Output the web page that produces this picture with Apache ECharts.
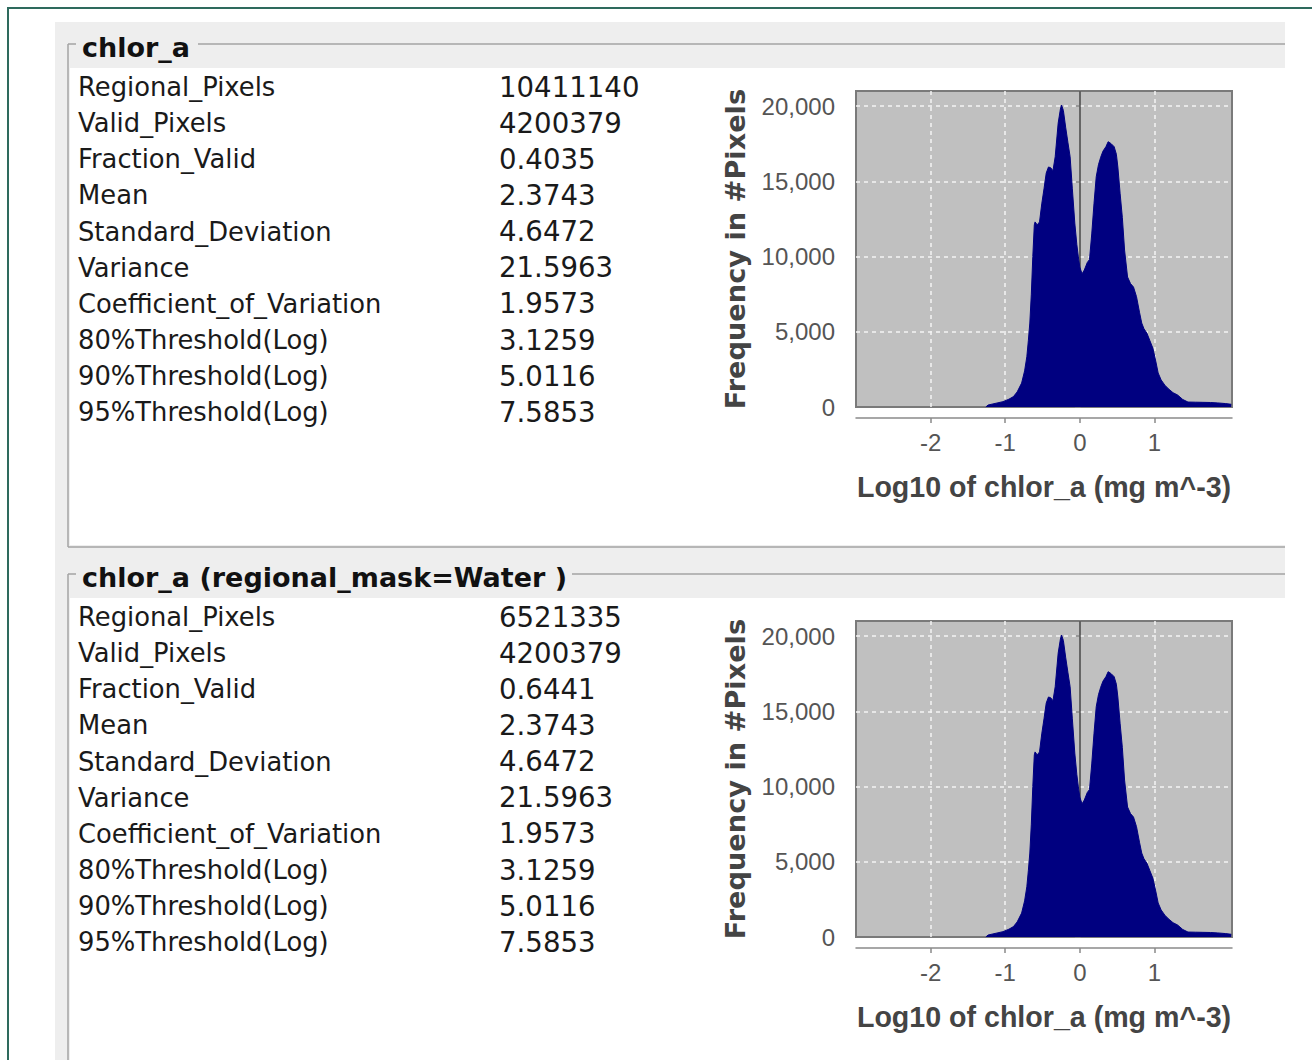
<!DOCTYPE html>
<html><head><meta charset="utf-8">
<script src="https://cdn.jsdelivr.net/npm/echarts@6/dist/echarts.min.js"></script>
<style>html,body{margin:0;padding:0;background:#fff;overflow:hidden}#c{width:1312px;height:1060px}</style>
</head><body><div id="c"></div><script>
// ---------- data ----------
const panelTitles = ['chlor_a', 'chlor_a (regional_mask=Water )'];
const statNames = ['Regional_Pixels', 'Valid_Pixels', 'Fraction_Valid', 'Mean', 'Standard_Deviation',
  'Variance', 'Coefficient_of_Variation', '80%Threshold(Log)', '90%Threshold(Log)', '95%Threshold(Log)'];
const statsAll = ['10411140', '4200379', '0.4035', '2.3743', '4.6472', '21.5963', '1.9573', '3.1259', '5.0116', '7.5853'];
const statsWater = ['6521335', '4200379', '0.6441', '2.3743', '4.6472', '21.5963', '1.9573', '3.1259', '5.0116', '7.5853'];
const xAxisTitle = 'Log10 of chlor_a (mg m^-3)';
const yAxisTitle = 'Frequency in #Pixels';
const xTicks = [-2, -1, 0, 1];
const yTicks = [0, 5000, 10000, 15000, 20000];
const yGridLines = [5000, 10000, 15000, 20000];
const xGridLines = [-2, -1, 1];
const markerX = 0;
// histogram: [log10 chlor_a, pixel count]
const histPoints = [
  [-1.26, 0], [-1.23, 130], [-1.15, 220], [-1.03, 355], [-0.95, 520], [-0.89, 690], [-0.84, 1000],
  [-0.78, 1590], [-0.74, 2400], [-0.71, 3340], [-0.69, 4400], [-0.67, 5580], [-0.65, 7500],
  [-0.63, 10000], [-0.61, 12100], [-0.60, 12300], [-0.57, 12100], [-0.54, 12300], [-0.51, 13500],
  [-0.48, 14500], [-0.45, 15550], [-0.42, 15950], [-0.39, 15900], [-0.36, 15700], [-0.33, 16630],
  [-0.29, 18870], [-0.26, 19800], [-0.245, 20070], [-0.22, 19700], [-0.19, 18600], [-0.16, 17600],
  [-0.13, 16630], [-0.10, 14500], [-0.067, 12220], [-0.04, 10800], [-0.02, 9990], [0.00, 9300],
  [0.03, 8850], [0.06, 9100], [0.10, 9600], [0.13, 9800], [0.16, 11500], [0.19, 13500],
  [0.22, 15300], [0.25, 16100], [0.28, 16600], [0.31, 17000], [0.35, 17300], [0.38, 17630],
  [0.42, 17500], [0.46, 17300], [0.49, 16800], [0.51, 15950], [0.54, 14200], [0.57, 12600],
  [0.60, 10430], [0.64, 8640], [0.68, 8200], [0.72, 7970], [0.76, 7330], [0.80, 6300],
  [0.83, 5580], [0.86, 5200], [0.90, 4900], [0.94, 4400], [0.98, 3900], [1.02, 3000],
  [1.05, 2260], [1.09, 1800], [1.14, 1450], [1.19, 1200], [1.25, 950], [1.31, 800],
  [1.38, 500], [1.45, 330], [1.55, 320], [1.65, 310], [1.75, 300], [1.85, 270], [1.95, 230], [2.03, 180]
];
const histograms = [histPoints, histPoints];

// ---------- layout ----------
const DY = [0, 530];
const LINE = '#a3a3a3';
const graphic = [];
graphic.push({ type: 'rect', z: -20, shape: { x: 55, y: 22, width: 1230, height: 1060 }, style: { fill: '#eeeeee' } });
graphic.push({ type: 'rect', z: -19, shape: { x: 70, y: 68, width: 1215, height: 477 }, style: { fill: '#ffffff' } });
graphic.push({ type: 'rect', z: -19, shape: { x: 70, y: 598, width: 1215, height: 470 }, style: { fill: '#ffffff' } });
graphic.push({ type: 'rect', z: -18, shape: { x: 8, y: 8, width: 1330, height: 1100 }, style: { fill: 'none', stroke: '#2e6a5d', lineWidth: 2 } });
const titleEnds = [198, 572];
DY.forEach((dy, p) => {
  const bottom = p === 0 ? 547 : 1070;
  graphic.push({ type: 'line', z: -17, shape: { x1: 68, y1: 44 + dy, x2: 68, y2: bottom }, style: { stroke: LINE, lineWidth: 1.5 } });
  graphic.push({ type: 'line', z: -17, shape: { x1: 68, y1: 44 + dy, x2: 76, y2: 44 + dy }, style: { stroke: LINE, lineWidth: 1.5 } });
  graphic.push({ type: 'line', z: -17, shape: { x1: titleEnds[p], y1: 44 + dy, x2: 1285, y2: 44 + dy }, style: { stroke: LINE, lineWidth: 1.5 } });
  if (p === 0) graphic.push({ type: 'line', z: -17, shape: { x1: 68, y1: 547, x2: 1285, y2: 547 }, style: { stroke: LINE, lineWidth: 1.5 } });
  graphic.push({ type: 'text', z: 5, x: 82, y: 47 + dy, style: { text: panelTitles[p], fill: '#111', fontFamily: 'DejaVu Sans', fontWeight: 'bold', fontSize: 27, align: 'left', verticalAlign: 'middle', textAlign: 'left', textVerticalAlign: 'middle' } });
  const vals = p === 0 ? statsAll : statsWater;
  statNames.forEach((name, i) => {
    const y = 87 + i * 36.15 + dy;
    graphic.push({ type: 'text', z: 5, x: 78, y: y, style: { text: name, fill: '#1a1a1a', fontFamily: 'DejaVu Sans', fontSize: 25.8, align: 'left', verticalAlign: 'middle', textAlign: 'left', textVerticalAlign: 'middle' } });
    graphic.push({ type: 'text', z: 5, x: 499, y: y, style: { text: vals[i], fill: '#1a1a1a', fontFamily: 'DejaVu Sans', fontSize: 27.6, align: 'left', verticalAlign: 'middle', textAlign: 'left', textVerticalAlign: 'middle' } });
  });
});

const gridLineStyle = { color: '#f4f4f4', width: 1.5, type: [4, 4] };
const grids = [], xAxes = [], yAxes = [], series = [];
DY.forEach((dy, p) => {
  grids.push({ left: 856, top: 91 + dy, width: 376, height: 316, show: true, backgroundColor: '#c0c0c0', borderColor: '#7a7a7a', borderWidth: 2, containLabel: false });
  xAxes.push({
    type: 'value', gridIndex: p, min: -3, max: 2.04, interval: 1, offset: 11,
    axisLine: { show: true, onZero: false, lineStyle: { color: '#8a8a8a', width: 1.5 } },
    axisTick: { show: true, length: 5, customValues: xTicks, lineStyle: { color: '#8a8a8a', width: 1.5 } },
    axisLabel: { customValues: xTicks, color: '#555', fontFamily: 'Liberation Sans', fontSize: 24, margin: 12 },
    splitLine: { show: false },
    name: xAxisTitle, nameLocation: 'middle', nameGap: 54,
    nameTextStyle: { color: '#444', fontFamily: 'Liberation Sans', fontWeight: 'bold', fontSize: 28.6 }
  });
  yAxes.push({
    type: 'value', gridIndex: p, min: 0, max: 21000, interval: 5000, offset: 11,
    axisLine: { show: true, lineStyle: { color: '#8a8a8a', width: 1.5 } },
    axisTick: { show: true, length: 5, customValues: yTicks, lineStyle: { color: '#8a8a8a', width: 1.5 } },
    axisLabel: { customValues: yTicks, color: '#555', fontFamily: 'Liberation Sans', fontSize: 24, margin: 10 },
    splitLine: { show: false },
    name: yAxisTitle, nameLocation: 'middle', nameGap: 96,
    nameTextStyle: { color: '#444', fontFamily: 'DejaVu Sans', fontWeight: 'bold', fontSize: 27.2 }
  });
  // grid lines and the zero marker, behind the histogram
  series.push({
    type: 'line', xAxisIndex: p, yAxisIndex: p, data: [], z: 1, silent: true,
    markLine: {
      z: 1, silent: true, symbol: 'none', label: { show: false }, animation: false,
      data: yGridLines.map(v => ({ yAxis: v, lineStyle: gridLineStyle }))
        .concat(xGridLines.map(v => ({ xAxis: v, lineStyle: gridLineStyle })))
        .concat([{ xAxis: markerX, lineStyle: { color: '#555', width: 1.5, type: 'solid' } }])
    }
  });
  series.push({
    type: 'line', xAxisIndex: p, yAxisIndex: p, data: histograms[p], symbol: 'none', smooth: false, z: 3,
    lineStyle: { color: '#000080', width: 1 }, areaStyle: { color: '#000080', opacity: 1 }
  });
});

const chart = echarts.init(document.getElementById('c'), null, { renderer: 'svg' });
chart.setOption({ animation: false, backgroundColor: '#ffffff', graphic: graphic, grid: grids, xAxis: xAxes, yAxis: yAxes, series: series });
</script></body></html>
